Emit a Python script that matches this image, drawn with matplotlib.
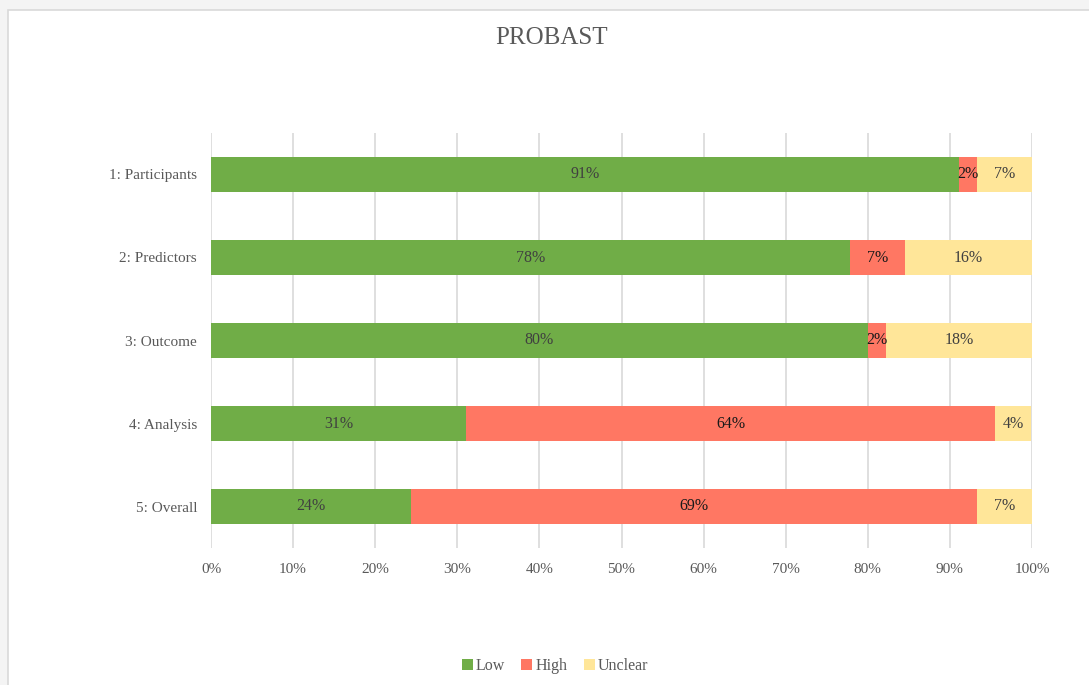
import matplotlib
matplotlib.use("Agg")
import matplotlib.pyplot as plt
from matplotlib.patches import Rectangle
from matplotlib.ticker import PercentFormatter

categories = ["1: Participants", "2: Predictors", "3: Outcome", "4: Analysis", "5: Overall"]
low = [91.1, 77.8, 80.0, 31.1, 24.4]
high = [2.2, 6.7, 2.2, 64.4, 68.9]
unclear = [6.7, 15.6, 17.8, 4.4, 6.7]
series_names = ["Low", "High", "Unclear"]
colors = ["#70AD47", "#FF7763", "#FFE699"]
label_colors = ["#404040", "#1a1a1a", "#404040"]

plt.rcParams["font.family"] = ["Liberation Serif", "DejaVu Serif"]

fig = plt.figure(figsize=(10.89, 6.85), dpi=100)
fig.patch.set_facecolor("#f4f4f4")
fig.patches.append(Rectangle((8 / 1089, -0.1), 1.2, 1.1 - 10 / 685,
                             transform=fig.transFigure, facecolor="white",
                             edgecolor="#d9d9d9", linewidth=1.2, zorder=-10))

ax = fig.add_axes([211 / 1089, 0.2, (1032 - 211) / 1089, 1 - 133 / 685 - 0.2])
ax.set_facecolor("white")

y = list(range(len(categories)))
left = [0] * len(categories)
for vals, name, col, lc in zip([low, high, unclear], series_names, colors, label_colors):
    bars = ax.barh(y, vals, left=left, height=0.41, color=col, label=name, zorder=3)
    ax.bar_label(bars, labels=[f"{round(v)}%" for v in vals], label_type="center",
                 fontsize=11.5, color=lc, zorder=4)
    left = [a + b for a, b in zip(left, vals)]

ax.set_xlim(0, 100)
ax.set_ylim(4.5, -0.5)
ax.set_yticks(y)
ax.set_yticklabels(categories)
ax.set_xticks(range(0, 101, 10))
ax.xaxis.set_major_formatter(PercentFormatter(decimals=0))
ax.grid(axis="x", color="#d9d9d9", linewidth=1.2, zorder=0)
for s in ax.spines.values():
    s.set_visible(False)
ax.tick_params(length=0, labelsize=11, labelcolor="#595959")
ax.tick_params(axis="x", pad=11)
ax.tick_params(axis="y", pad=10)

fig.text(552 / 1089, 1 - 38 / 685, "PROBAST", ha="center", va="center",
         fontsize=18, color="#595959")

ax.legend(loc="center", bbox_to_anchor=(555 / 1089, 1 - 666 / 685),
          bbox_transform=fig.transFigure, ncol=3, frameon=False,
          fontsize=11.5, labelcolor="#595959", handlelength=0.7, handleheight=0.7,
          handletextpad=0.2, columnspacing=1.0)

fig.savefig("out.png", dpi=100, facecolor=fig.get_facecolor())
